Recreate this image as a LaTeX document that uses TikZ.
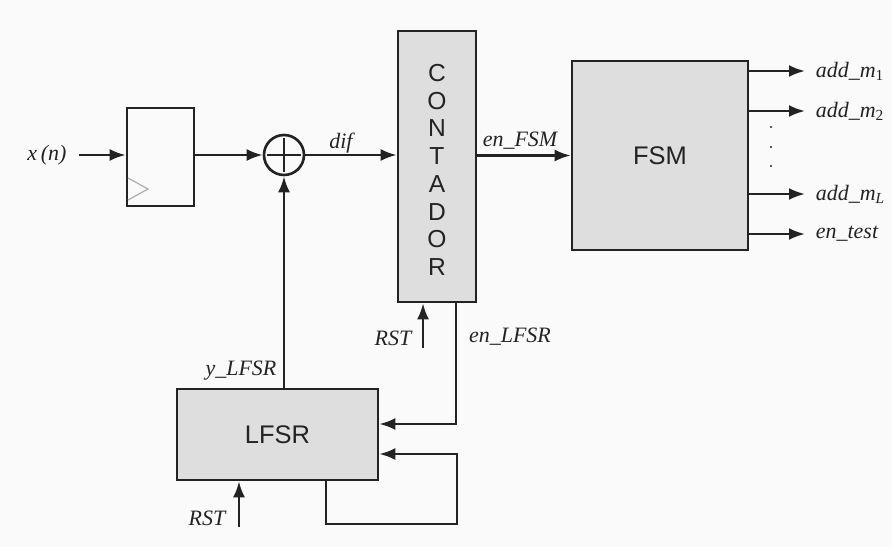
\documentclass[tikz,border=0pt]{standalone}
\usepackage{fontspec}
\setmainfont{Liberation Serif}
\setsansfont{Liberation Sans}
\usetikzlibrary{arrows.meta,positioning,calc}
\definecolor{blkfill}{RGB}{222,222,222}
\definecolor{blkline}{RGB}{35,35,35}
\definecolor{bgpaper}{RGB}{250,250,250}
\definecolor{clkgray}{RGB}{175,175,175}
\tikzset{
  blk/.style={draw=blkline, fill=blkfill, line width=1.5pt, inner sep=0pt,
    font=\sffamily\fontsize{14.5}{16}\selectfont, text=blkline},
  regbox/.style={draw=blkline, fill=bgpaper, line width=1.5pt, inner sep=0pt},
  sig/.style={-{Latex[length=3.2mm,width=2.4mm]}, blkline, line width=1.4pt},
  wire/.style={blkline, line width=1.4pt},
  lbl/.style={font=\fontsize{12.5}{14}\selectfont\itshape, text=blkline, inner sep=1pt},
}

\begin{document}
\begin{tikzpicture}[x=0.02cm, y=-0.02cm]
  \fill[bgpaper] (0,0) rectangle (892,547);
  \useasboundingbox (0,0) rectangle (892,547);
  % blocks
  \node[regbox, minimum width=1.34cm, minimum height=1.96cm] (reg) at (160.5,157) {};
  \draw[clkgray, line width=0.7pt] (128,200) -- (148,189) -- (128,178);
  \node[circle, draw=blkline, fill=bgpaper, line width=1.5pt, minimum size=0.8cm, inner sep=0pt] (add) at (284,155) {};
  \draw[wire, shorten <=2.5pt, shorten >=2.5pt] (add.north) -- (add.south);
  \draw[wire, shorten <=2.5pt, shorten >=2.5pt] (add.west) -- (add.east);
  \node[blk, minimum width=1.56cm, minimum height=5.42cm] (cont) at (437,166.5) {};
  \node[font=\sffamily\fontsize{14}{15.8}\selectfont, text=blkline, align=center] (conttxt) at (437,170)
    {C\\O\\N\\T\\A\\D\\O\\R};
  \node[blk, minimum width=3.52cm, minimum height=3.78cm] (fsm) at (660,155.5) {FSM};
  \node[blk, minimum width=4.02cm, minimum height=1.82cm] (lfsr) at (277.5,434.5) {LFSR};
  % input and data path
  \node[lbl] (xin) at (47,155) {x\,(n)};
  \draw[sig] ([xshift=6pt]xin.east) -- (xin.east -| reg.west);
  \draw[sig] (reg.east |- add) -- (add.west);
  \draw[sig] (add.east) -- (add -| cont.west);
  \node[lbl] (dif) at (341,143) {dif};
  \draw[sig] (fsm.west -| cont.east) -- (fsm.west);
  \node[lbl] (enfsm) at (520,141) {en\_FSM};
  % outputs of FSM
  \coordinate (o1) at (805,71);
  \coordinate (o2) at (805,111);
  \coordinate (o3) at (805,194);
  \coordinate (o4) at (805,234);
  \draw[sig] (o1 -| fsm.east) -- (o1);
  \draw[sig] (o2 -| fsm.east) -- (o2);
  \draw[sig] (o3 -| fsm.east) -- (o3);
  \draw[sig] (o4 -| fsm.east) -- (o4);
  \node[lbl, anchor=west] (am1) at ([xshift=5pt]o1) {add\_m\textsubscript{\upshape 1}};
  \node[lbl, anchor=west] (am2) at ([xshift=5pt]o2) {add\_m\textsubscript{\upshape 2}};
  \node[lbl, anchor=west] (amL) at ([xshift=5pt]o3) {add\_m\textsubscript{L}};
  \node[lbl, anchor=west] (entest) at ([xshift=5pt]o4) {en\_test};
  \foreach \yy in {127,147,166} \fill[blkline] (771,\yy) circle (0.7pt);
  % LFSR feedback into adder
  \draw[sig] (lfsr.north -| add) -- (add.south);
  \node[lbl] (ylfsr) at (241,371) {y\_LFSR};
  % resets
  \coordinate (rst1) at (423,348);
  \draw[sig] (rst1) -- (rst1 |- cont.south);
  \node[lbl] (rstc) at (393,338) {RST};
  \coordinate (rst2) at (239,527);
  \draw[sig] (rst2) -- (rst2 |- lfsr.south);
  \node[lbl] (rstl) at (207,518) {RST};
  % enable of LFSR
  \coordinate (e1) at (456,424);
  \draw[sig] (cont.south -| e1) -- (e1) -- (e1 -| lfsr.east);
  \node[lbl] (enlfsr) at (510,337) {en\_LFSR};
  % LFSR self loop
  \coordinate (f1) at (326,524);
  \coordinate (f2) at (457,524);
  \coordinate (f3) at (457,454);
  \draw[sig] (lfsr.south -| f1) -- (f1) -- (f2) -- (f3) -- (f3 -| lfsr.east);
\end{tikzpicture}
\end{document}
